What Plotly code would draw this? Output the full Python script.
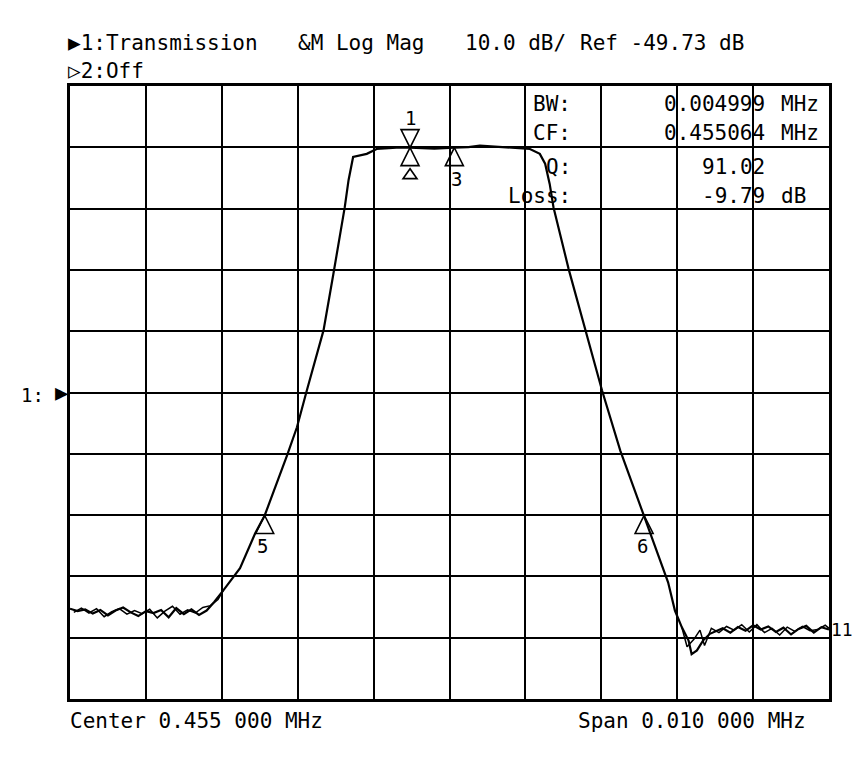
import plotly.graph_objects as go

# ---- data (frequency in kHz, magnitude in dB) ----
freq_khz = [450.00, 450.10, 450.20, 450.30, 450.40, 450.50, 450.60, 450.70, 450.80, 450.90,
            451.00, 451.10, 451.20, 451.30, 451.40, 451.50, 451.60, 451.70, 451.80, 451.90,
            452.02, 452.24, 452.44, 452.565, 452.86, 452.99, 453.12, 453.23, 453.34, 453.47,
            453.62, 453.67, 453.73, 453.91, 454.04, 454.20, 454.35, 454.48, 454.65, 454.80,
            455.064, 455.25, 455.40, 455.55, 455.75, 455.95, 456.06, 456.19, 456.26, 456.32,
            456.37, 456.57, 456.79, 457.01, 457.25, 457.564, 457.64, 457.77, 457.88, 457.97,
            458.06, 458.15, 458.19, 458.26, 458.34, 458.43, 458.52, 458.60, 458.70, 458.80,
            458.90, 459.00, 459.10, 459.20, 459.30, 459.40, 459.50, 459.60, 459.70, 459.80,
            459.90, 460.00]
mag_db = [-85.0, -85.4, -85.1, -85.8, -85.2, -86.1, -85.3, -84.8, -85.6, -86.2,
          -85.4, -85.7, -85.2, -86.4, -84.9, -85.9, -85.1, -86.0, -85.3, -83.9,
          -82.0, -78.4, -72.7, -69.79, -60.0, -55.4, -49.4, -44.5, -39.6, -30.4,
          -19.5, -15.1, -11.3, -10.8, -10.0, -9.85, -9.75, -9.79, -9.85, -9.95,
          -9.79, -9.70, -9.45, -9.55, -9.80, -9.90, -10.0, -10.8, -12.4, -15.7,
          -19.5, -29.6, -39.6, -49.4, -59.2, -69.79, -72.5, -76.9, -80.7, -85.3,
          -88.0, -90.2, -92.4, -91.8, -90.2, -89.1, -88.6, -88.2, -88.9, -88.0,
          -88.6, -87.7, -88.4, -87.9, -88.8, -88.1, -89.2, -88.3, -87.8, -88.9,
          -88.0, -88.4]

# second (overlaid) sweep in the noise-floor regions
left2_khz = [450.05, 450.15, 450.25, 450.35, 450.45, 450.55, 450.65, 450.75, 450.85, 450.95,
             451.05, 451.15, 451.25, 451.35, 451.45, 451.55, 451.65, 451.75, 451.85, 451.95, 452.02]
left2_db = [-85.6, -84.9, -85.7, -85.0, -86.3, -85.5, -85.0, -85.9, -85.3, -85.8,
            -85.1, -86.5, -85.4, -84.6, -85.9, -85.2, -85.7, -84.8, -84.5, -83.5, -82.0]
right2_khz = [458.06, 458.13, 458.22, 458.30, 458.36, 458.45, 458.55, 458.65, 458.75, 458.85,
              458.95, 459.05, 459.15, 459.25, 459.35, 459.45, 459.55, 459.65, 459.75, 459.85,
              459.95, 460.00]
right2_db = [-88.0, -91.2, -90.0, -88.5, -91.0, -88.2, -88.9, -87.9, -88.5, -87.6,
             -88.8, -87.6, -88.9, -88.2, -89.3, -88.0, -88.7, -87.9, -88.6, -88.4,
             -87.7, -88.2]

# markers
marker_labels = ["1", "3", "5", "6"]
marker_khz = [454.48, 455.064, 452.565, 457.564]
marker_db = [-9.79, -9.79, -69.79, -69.79]

# axis settings
ref_db = -49.73
scale_db = 10.0
center_khz = 455.0
span_khz = 10.0

# ---- figure ----
OFF = 8                      # page offset of the plot div
W, H = 864 - OFF, 759 - OFF
L, R, T, B = 62, 35, 78, 60
pw, ph = W - L - R, H - T - B

def px(x):
    return (x - OFF - L) / pw

def py(y):
    return (H + OFF - B - y) / ph

FONT = "DejaVu Sans Mono"
line_style = dict(color="black", width=2.2)

fig = go.Figure()
fig.add_trace(go.Scatter(x=freq_khz, y=mag_db, mode="lines", line=line_style, showlegend=False))
fig.add_trace(go.Scatter(x=left2_khz, y=left2_db, mode="lines", line=dict(color="black", width=1.5), showlegend=False))
fig.add_trace(go.Scatter(x=right2_khz, y=right2_db, mode="lines", line=dict(color="black", width=1.5), showlegend=False))

ymin = ref_db - 5 * scale_db
ymax = ref_db + 5 * scale_db
fig.update_xaxes(range=[center_khz - span_khz / 2, center_khz + span_khz / 2], dtick=1,
                 tick0=center_khz - span_khz / 2,
                 showgrid=True, gridcolor="black", gridwidth=1.8, showticklabels=False,
                 ticks="", zeroline=False, showline=True, linecolor="black", linewidth=2.5, mirror=True)
fig.update_yaxes(range=[ymin, ymax], dtick=scale_db, tick0=ref_db,
                 showgrid=True, gridcolor="black", gridwidth=1.8, showticklabels=False,
                 ticks="", zeroline=False, showline=True, linecolor="black", linewidth=2.5, mirror=True)

# marker triangles (pixel-sized shapes anchored at data points)
def tri(xa, ya, down_above=False, size=9, h=18, gap=0):
    if down_above:
        path = f"M0,{gap} L{-size},{h+gap} L{size},{h+gap} Z"
    else:
        path = f"M0,{-gap} L{-size},{-h-gap} L{size},{-h-gap} Z"
    fig.add_shape(type="path", xref="x", yref="y", xsizemode="pixel", ysizemode="pixel",
                  xanchor=xa, yanchor=ya, path=path, line=dict(color="black", width=1.6),
                  fillcolor="rgba(0,0,0,0)")

for lab, mx, my in zip(marker_labels, marker_khz, marker_db):
    tri(mx, my)
    if lab == "1":
        tri(mx, my, down_above=True)
        tri(mx, my, size=7, h=10, gap=21)   # small delta reference symbol

label_shift = {"1": (0, 30), "3": (2, -31), "5": (-2, -31), "6": (-2, -31)}
for lab, mx, my in zip(marker_labels, marker_khz, marker_db):
    dx, dy = label_shift[lab]
    fig.add_annotation(x=mx, y=my, xref="x", yref="y", text=lab, showarrow=False,
                       xshift=dx, yshift=dy, font=dict(family=FONT, size=19, color="black"))

def txt(text, x, y, anchor="left", size=21):
    fig.add_annotation(x=px(x), y=py(y), xref="paper", yref="paper", text=text, showarrow=False,
                       xanchor=anchor, yanchor="middle", font=dict(family=FONT, size=size, color="black"))

# header
txt("▶1:Transmission", 66, 43)
txt("&M Log Mag", 296, 43)
txt("10.0 dB/", 463, 43)
txt(f"Ref {ref_db:.2f} dB", 578, 43)
txt("▷2:Off", 66, 71)
# footer
txt("Center 0.455 000 MHz", 68, 721)
txt("Span 0.010 000 MHz", 576, 721)
# reference pointer
txt("1:", 46, 395, anchor="right", size=19)
txt("▶", 71, 392, anchor="right", size=22)
# marker readout
txt("BW:", 573, 104, anchor="right")
txt("0.004999", 767, 104, anchor="right")
txt("MHz", 779, 104)
txt("CF:", 573, 133, anchor="right")
txt("0.455064", 767, 133, anchor="right")
txt("MHz", 779, 133)
txt("Q:", 573, 167, anchor="right")
txt("91.02", 767, 167, anchor="right")
txt("Loss:", 573, 196, anchor="right")
txt("-9.79", 767, 196, anchor="right")
txt("dB", 779, 196)
# end marker label
txt("11", 829, 629, size=18)

fig.update_layout(width=W, height=H, margin=dict(l=L, r=R, t=T, b=B, pad=0),
                  paper_bgcolor="white", plot_bgcolor="white", showlegend=False)

fig.write_html("out.html")
